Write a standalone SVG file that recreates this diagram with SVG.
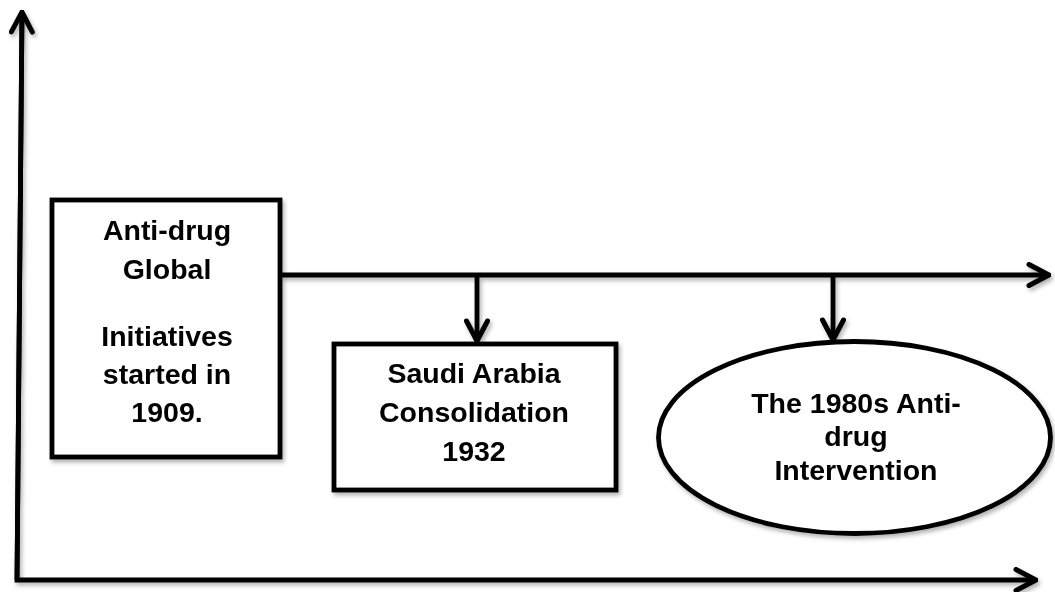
<svg xmlns="http://www.w3.org/2000/svg" width="1055" height="592" viewBox="0 0 1055 592">
  <defs>
    <filter id="sh" x="-10%" y="-10%" width="130%" height="130%">
      <feDropShadow dx="2" dy="3" stdDeviation="2" flood-color="#000" flood-opacity="0.3"/>
    </filter>
    <marker id="chev" viewBox="-24 -13 26 26" markerWidth="26" markerHeight="26" refX="0" refY="0" orient="auto" markerUnits="userSpaceOnUse">
      <path d="M-20,-10.5 L0,0 L-20,10.5" fill="none" stroke="#000" stroke-width="5" stroke-linecap="round" stroke-linejoin="miter"/>
    </marker>
  </defs>
  <style>
    .ln { fill: none; stroke: #000; stroke-width: 4.8; }
    .box { fill: #fff; stroke: #000; stroke-width: 4.8; }
    .t { font-family: "Liberation Sans", Arial, sans-serif; font-weight: bold; font-size: 28.5px; fill: #000; text-anchor: middle; }
  </style>
  <rect width="1055" height="592" fill="#fff"/>

  <g id="connectors" filter="url(#sh)">
    <path id="axes" class="ln" d="M22,12 L17,580 L1036,580" marker-end="url(#chev)"/>
    <path id="axis-top" class="ln" d="M17,580 L22,12" marker-end="url(#chev)"/>
    <path id="timeline" class="ln" d="M281,275 L1049,275" marker-end="url(#chev)"/>
    <path class="ln" d="M477,275 L477,341" marker-end="url(#chev)"/>
    <path class="ln" d="M833,275 L833,340" marker-end="url(#chev)"/>
  </g>

  <g id="node-1909" filter="url(#sh)">
    <rect class="box" x="52" y="200" width="228" height="257"/>
    <text class="t" x="167" y="240">Anti-drug</text>
    <text class="t" x="167" y="279">Global</text>
    <text class="t" x="167" y="346">Initiatives</text>
    <text class="t" x="167" y="384">started in</text>
    <text class="t" x="167" y="422">1909.</text>
  </g>

  <g id="node-1932" filter="url(#sh)">
    <rect class="box" x="334" y="344" width="282" height="146"/>
    <text class="t" x="474" y="383">Saudi Arabia</text>
    <text class="t" x="474" y="422">Consolidation</text>
    <text class="t" x="474" y="461">1932</text>
  </g>

  <g id="node-1980s" filter="url(#sh)">
    <ellipse class="box" cx="854.5" cy="437.5" rx="196" ry="96"/>
    <text class="t" x="856" y="413">The 1980s Anti-</text>
    <text class="t" x="856" y="446">drug</text>
    <text class="t" x="856" y="480">Intervention</text>
  </g>
</svg>
